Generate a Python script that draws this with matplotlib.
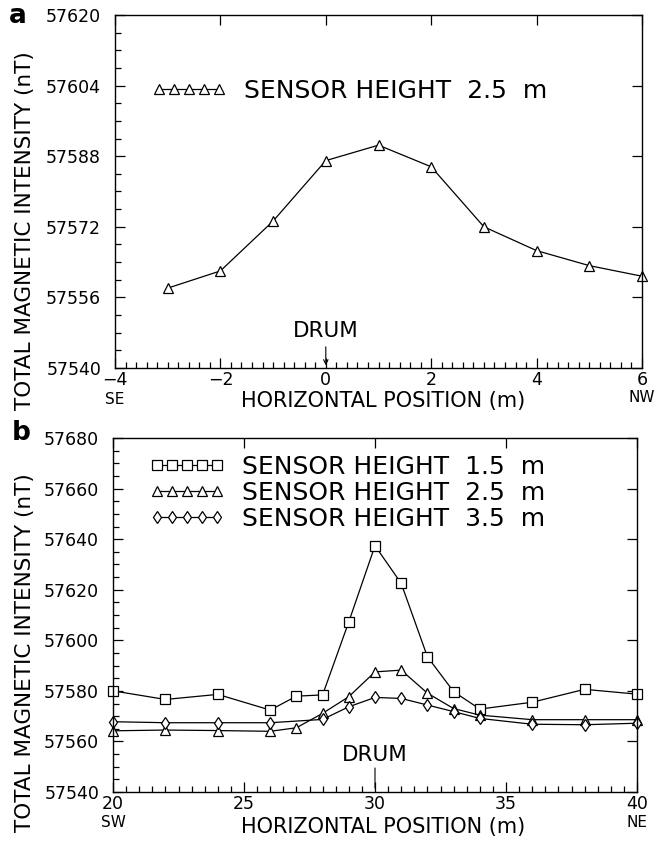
import numpy as np
import matplotlib
matplotlib.use("Agg")
import matplotlib.pyplot as plt
from matplotlib.ticker import MultipleLocator, FixedLocator, FuncFormatter
from matplotlib.transforms import blended_transform_factory

plt.rcParams.update({
    "font.family": "DejaVu Sans",
    "axes.linewidth": 1.0,
    "xtick.direction": "in",
    "ytick.direction": "in",
})

# panel a : sensor height 2.5 m
a_pos = [-3, -2, -1, 0, 1, 2, 3, 4, 5, 6]
a_tmi = [57558.1, 57562.0, 57573.3, 57587.0, 57590.5, 57585.6, 57572.0, 57566.6, 57563.2, 57560.8]
a_label = "SENSOR HEIGHT  2.5  m"
a_yticks = [57540, 57556, 57572, 57588, 57604, 57620]

# panel b : three sensor heights
b15_pos = [20, 22, 24, 26, 27, 28, 29, 30, 31, 32, 33, 34, 36, 38, 40]
b15_tmi = [57580.0, 57576.6, 57578.6, 57572.4, 57577.9, 57578.4, 57607.3, 57637.4, 57622.5,
           57593.5, 57579.7, 57572.8, 57575.5, 57580.6, 57578.7]
b25_pos = [20, 22, 24, 26, 27, 28, 29, 30, 31, 32, 33, 34, 36, 38, 40]
b25_tmi = [57564.2, 57564.5, 57564.3, 57564.0, 57565.4, 57571.1, 57577.7, 57587.5, 57588.2,
           57579.1, 57573.0, 57570.4, 57568.6, 57568.6, 57568.6]
b35_pos = [20, 22, 24, 26, 28, 29, 30, 31, 32, 33, 34, 36, 38, 40]
b35_tmi = [57567.8, 57567.4, 57567.4, 57567.4, 57568.7, 57573.7, 57577.4, 57577.0,
           57574.4, 57571.8, 57569.1, 57566.8, 57566.6, 57567.2]
b_labels = ["SENSOR HEIGHT  1.5  m", "SENSOR HEIGHT  2.5  m", "SENSOR HEIGHT  3.5  m"]
b_yticks = [57540, 57560, 57580, 57600, 57620, 57640, 57660, 57680]

W, H = 657, 842
fig = plt.figure(figsize=(W / 100, H / 100), dpi=100)

def px_axes(left, top, right, bottom):
    return fig.add_axes([left / W, 1 - bottom / H, (right - left) / W, (bottom - top) / H])

ax_a = px_axes(115, 15, 642, 368)
ax_b = px_axes(113, 438, 637, 792)

tick_fs = 12.5
text_fs = 15.5
leg_fs = 18
mk = dict(color="k", linewidth=0.9, markerfacecolor="white", markeredgecolor="k",
          markeredgewidth=0.9, markersize=6.5, clip_on=False)

def style(ax, xmaj, xmin, yticks, ymin):
    ax.xaxis.set_major_locator(MultipleLocator(xmaj))
    ax.xaxis.set_minor_locator(MultipleLocator(xmin))
    ax.yaxis.set_major_locator(FixedLocator(yticks))
    ax.yaxis.set_minor_locator(MultipleLocator(ymin))
    ax.yaxis.set_major_formatter(FuncFormatter(lambda v, p: f"{v:.0f}"))
    ax.tick_params(which="both", top=True, right=True, labelsize=tick_fs, width=0.9)
    ax.tick_params(which="major", length=7)
    ax.tick_params(which="minor", length=4, top=False, right=False)
    ax.tick_params(axis="y", pad=10)
    ax.tick_params(axis="x", pad=2)

def drum(ax, x, text_y, arrow_top, arrow_bottom, head):
    ax.text(x, text_y, "DRUM", ha="center", va="bottom", fontsize=text_fs)
    style_ = "->" if head else "-"
    ax.annotate("", xy=(x, arrow_bottom), xytext=(x, arrow_top),
                arrowprops=dict(arrowstyle=style_, lw=0.8, shrinkA=0, shrinkB=0,
                                mutation_scale=8))

# --- panel a
ax_a.plot(a_pos, a_tmi, marker="^", label=a_label, **mk)
ax_a.set_xlim(-4, 6)
ax_a.set_ylim(57540, 57620)
style(ax_a, 2, 0.2, a_yticks, 4)
ax_a.legend(loc="center left", bbox_to_anchor=(0.07, 0.785), frameon=False, numpoints=5,
            handlelength=3.0, handletextpad=0.7, borderpad=0, borderaxespad=0,
            fontsize=leg_fs)
drum(ax_a, 0, 57546.1, 57544.8, 57540.6, True)
tr = blended_transform_factory(ax_a.transData, ax_a.transAxes)
ax_a.text(-4, -0.068, "SE", transform=tr, ha="center", va="top", fontsize=tick_fs - 1.5)
ax_a.text(6, -0.062, "NW", transform=tr, ha="center", va="top", fontsize=tick_fs - 1.5)
fig.text(383 / W, 1 - 401 / H, "HORIZONTAL POSITION (m)", ha="center", va="center", fontsize=15)
fig.text(25 / W, 1 - 231 / H, "TOTAL MAGNETIC INTENSITY (nT)", rotation=90,
         ha="center", va="center", fontsize=text_fs)
fig.text(9 / W, 1 - 16 / H, "a", fontweight="bold", fontsize=19, ha="left", va="center")

# --- panel b
ax_b.plot(b15_pos, b15_tmi, marker="s", label=b_labels[0], **mk)
ax_b.plot(b25_pos, b25_tmi, marker="^", label=b_labels[1], **mk)
ax_b.plot(b35_pos, b35_tmi, marker="d", label=b_labels[2], **mk)
ax_b.set_xlim(20, 40)
ax_b.set_ylim(57540, 57680)
style(ax_b, 5, 0.5, b_yticks, 5)
ax_b.legend(loc="center left", bbox_to_anchor=(0.07, 0.846), frameon=False, numpoints=5,
            handlelength=3.0, handletextpad=0.7, borderpad=0, borderaxespad=0,
            labelspacing=0.08, fontsize=leg_fs)
drum(ax_b, 30, 57550.7, 57549.5, 57541.5, False)
tr = blended_transform_factory(ax_b.transData, ax_b.transAxes)
ax_b.text(20, -0.064, "SW", transform=tr, ha="center", va="top", fontsize=tick_fs - 1.5)
ax_b.text(40, -0.064, "NE", transform=tr, ha="center", va="top", fontsize=tick_fs - 1.5)
fig.text(383 / W, 1 - 827 / H, "HORIZONTAL POSITION (m)", ha="center", va="center", fontsize=15)
fig.text(25 / W, 1 - 653 / H, "TOTAL MAGNETIC INTENSITY (nT)", rotation=90,
         ha="center", va="center", fontsize=text_fs)
fig.text(12 / W, 1 - 433 / H, "b", fontweight="bold", fontsize=19, ha="left", va="center")

fig.savefig("out.png", dpi=100)
